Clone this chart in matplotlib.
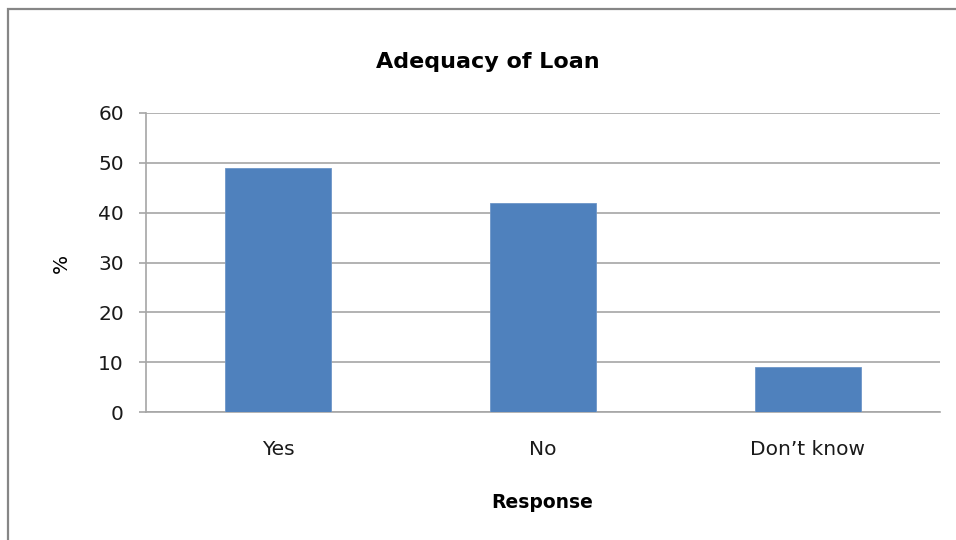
import matplotlib
matplotlib.use("Agg")
import matplotlib.pyplot as plt
from matplotlib.patches import Rectangle

# data
categories = ["Yes", "No", "Don\u2019t know"]
percent = [49, 42, 9]

plt.rcParams['font.family'] = ['DejaVu Sans']

W, H = 956, 540
fig = plt.figure(figsize=(W/100, H/100), dpi=100)
ax = fig.add_axes([146/W, 1 - 412/H, (940-146)/W, (412-113)/H])

# outer frame (runs off right and bottom of the picture)
fig.patches.append(Rectangle((7.5/W, -0.2), 1.2, 1 - 8.5/H + 0.2,
                             transform=fig.transFigure, fill=False,
                             edgecolor='#868686', linewidth=1.6))

x = range(len(categories))
ax.bar(x, percent, width=0.4, color='#4F81BD', edgecolor='#6d96c8',
       linewidth=0.6, zorder=3)

ax.set_xlim(-0.5, 2.5)
ax.set_ylim(0, 60)
ax.set_yticks(range(0, 61, 10))
ax.set_xticks(list(x))
ax.set_xticklabels(categories)
ax.grid(axis='y', color='#a6a6a6', linewidth=1.2, zorder=0)

for s in ['top', 'right']:
    ax.spines[s].set_visible(False)
for s in ['left', 'bottom']:
    ax.spines[s].set_color('#a6a6a6')
    ax.spines[s].set_linewidth(1.2)

ax.tick_params(axis='y', length=5, width=1.2, color='#a6a6a6',
               labelsize=14.5, pad=11, labelcolor='#1a1a1a')
ax.tick_params(axis='x', length=0, labelsize=14.5, pad=20, labelcolor='#1a1a1a')

# title and axis titles placed by pixel
fig.text(488/W, 1 - 62/H, "Adequacy of Loan", fontsize=16, fontweight='bold',
         ha='center', va='center')
fig.text(542/W, 1 - 502/H, "Response", fontsize=13.5, fontweight='bold',
         ha='center', va='center')
fig.text(61/W, 1 - 263/H, "%", fontsize=14.5, rotation=90,
         ha='center', va='center')

fig.savefig("out.png", dpi=100)
